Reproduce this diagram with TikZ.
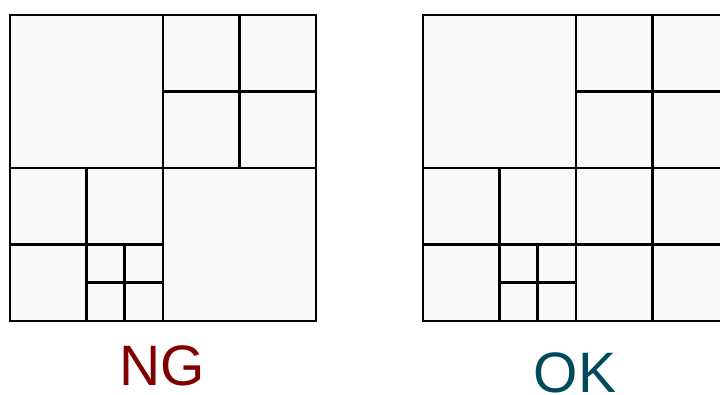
\documentclass[tikz,border=0pt]{standalone}
\usepackage{fontspec}
\setmainfont{Liberation Sans}
\definecolor{ngred}{HTML}{800000}
\definecolor{okteal}{HTML}{004B5B}
\definecolor{cellfill}{HTML}{F9F9F9}
\begin{document}
\begin{tikzpicture}[x=1pt,y=-1pt,
  grid/.style={draw=black,line width=2.8pt,line cap=rect},
  lbl/.style={font=\fontsize{57}{57}\selectfont,anchor=base,inner sep=0pt}]
\clip (0,0) rectangle (720,394);
\fill[white] (0,0) rectangle (720,394);
% NG quadtree
\filldraw[grid,fill=cellfill] (10,15) rectangle (316,321);
\draw[grid] (163,15) -- (163,321);
\draw[grid] (10,168) -- (316,168);
\draw[grid] (239.5,15) -- (239.5,168);
\draw[grid] (163,91.5) -- (316,91.5);
\draw[grid] (86.5,168) -- (86.5,321);
\draw[grid] (10,244.5) -- (163,244.5);
\draw[grid] (124.75,244.5) -- (124.75,321);
\draw[grid] (86.5,282.75) -- (163,282.75);
% OK quadtree
\filldraw[grid,fill=cellfill] (423,15) rectangle (729,321);
\draw[grid] (576,15) -- (576,321);
\draw[grid] (423,168) -- (729,168);
\draw[grid] (652.5,15) -- (652.5,321);
\draw[grid] (576,91.5) -- (729,91.5);
\draw[grid] (576,244.5) -- (729,244.5);
\draw[grid] (499.5,168) -- (499.5,321);
\draw[grid] (423,244.5) -- (576,244.5);
\draw[grid] (537.75,244.5) -- (537.75,321);
\draw[grid] (499.5,282.75) -- (576,282.75);
\node[lbl,text=ngred] (ng) at (162.5,385) {NG};
\node[lbl,text=okteal] (ok) at (575,392) {OK};
\end{tikzpicture}
\end{document}
